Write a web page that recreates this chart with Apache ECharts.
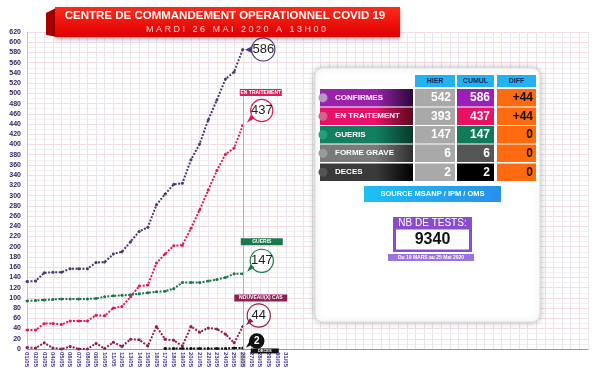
<!DOCTYPE html>
<html>
<head>
<meta charset="utf-8">
<script src="https://cdn.jsdelivr.net/npm/echarts@6/dist/echarts.min.js"></script>
<style>
  html, body { margin: 0; padding: 0; background: #fff; }
  #chart { width: 600px; height: 376px; }
</style>
</head>
<body>
<div id="chart"></div>
<script>
// Data
const days = ['01/05', '02/05', '03/05', '04/05', '05/05', '06/05', '07/05', '08/05', '09/05', '10/05',
  '11/05', '12/05', '13/05', '14/05', '15/05', '16/05', '17/05', '18/05', '19/05', '20/05',
  '21/05', '22/05', '23/05', '24/05', '25/05', '26/05', '27/05', '28/05', '29/05', '30/05', '31/05']
const confirmes = [132, 133, 149, 150, 150, 157, 157, 157, 169, 170, 186, 190, 210, 230, 238, 282, 303, 322, 324, 370, 401, 448, 487, 528, 542, 586]
const enTraitement = [37, 37, 50, 50, 48, 55, 55, 55, 66, 65, 80, 83, 102, 123, 125, 168, 186, 202, 203, 236, 272, 311, 349, 381, 393, 437]
const gueris = [94, 95, 96, 97, 98, 98, 98, 98, 99, 102, 104, 105, 106, 108, 110, 112, 113, 118, 130, 130, 130, 133, 136, 140, 147, 147]
const nouveauxCas = [3, 2, 12, 2, 0, 5, 0, 0, 11, 1, 13, 5, 19, 18, 6, 44, 19, 17, 6, 44, 33, 41, 39, 29, 12, 44]
const deces = [null, null, null, null, null, null, null, null, null, null, null, null, null, null, null, null, 1, 1, 1, 1, 1, 1, 1, 1, 2, 2]

// table on the right
const rowNames = ['CONFIRMES', 'EN TRAITEMENT', 'GUERIS', 'FORME GRAVE', 'DECES']
const hier = [542, 393, 147, 6, 2]
const cumul = [586, 437, 147, 6, 2]
const diff = ['+44', '+44', '0', '0', '0']
const nbTests = '9340'

// blank categories so the grid keeps going to the right edge
const categories = days.concat(new Array(35).fill(''))

const FONT = '"Liberation Sans", Arial, sans-serif'

// builds a line series with a bubble on its last point
function lineSeries(name, values, color, opts) {
  const last = values.length - 1
  const data = values.map((v, i) => {
    if (i !== last) return v
    return {
      value: v,
      label: {
        show: true,
        position: 'inside',
        offset: opts.circleOffset,
        formatter: (opts.pointer ? '{p|◀}' : '') + '{c|' + v + '}',
        rich: {
          p: { color: color, fontSize: 9 },
          c: {
            width: opts.d, height: opts.d, lineHeight: opts.d, borderRadius: opts.d / 2,
            backgroundColor: opts.fill || '#fff', borderColor: color, borderWidth: 1.2,
            color: opts.textColor || '#222', fontSize: opts.fontSize || 13, align: 'center',
            fontFamily: FONT, fontWeight: opts.fontWeight || 'normal'
          }
        }
      }
    }
  })
  const markData = []
  if (opts.box) {
    markData.push({
      coord: [days[last], values[last]],
      symbol: 'rect', symbolSize: 0,
      label: {
        show: true, position: 'inside', offset: opts.boxOffset,
        formatter: opts.box,
        width: opts.boxW, height: opts.boxH, lineHeight: opts.boxH,
        backgroundColor: opts.boxColor || color, color: '#fff',
        fontSize: opts.boxFont || 5, fontWeight: 'bold', fontFamily: FONT, align: 'center', padding: 0
      }
    })
  }
  if (opts.tail) {
    markData.push({
      coord: [days[last], values[last]],
      symbol: 'triangle', symbolSize: [5, 8], symbolRotate: 135,
      symbolOffset: opts.tail,
      itemStyle: { color: color },
      label: { show: false }
    })
  }
  return {
    name: name,
    type: 'line',
    data: data,
    symbol: 'circle',
    symbolSize: 3,
    showSymbol: true,
    itemStyle: { color: color },
    lineStyle: { color: color, width: 2, type: [2, 1.5] },
    label: { show: false },
    z: opts.z || 3,
    markPoint: markData.length ? { silent: true, animation: false, data: markData } : undefined,
    markLine: opts.markLine
  }
}

const chart = echarts.init(document.getElementById('chart'))

// right panel built from the table arrays
const colX = [415, 457, 497]
const colW = [40, 37, 39]
const rowY = [89, 107.5, 126, 144.5, 163.5]
const rowH = 17.5
const barColors = [['#9a22aa', '#2a0838'], ['#e8106a', '#5a0818'], ['#128060', '#08382a'], ['#7a7a7a', '#2e2e2e'], ['#3a3a3a', '#000']]
const bulbColors = ['#b496c8', '#d8608e', '#1fa07a', '#9a9a9a', '#555']
const cumulColors = ['#9a1fb4', '#ea1064', '#117a58', '#555', '#000']

const graphics = []
// banner
graphics.push({ type: 'polygon', shape: { points: [[46, 13], [58, 7], [58, 37], [46, 35]] }, style: { fill: '#a80000' } })
graphics.push({
  type: 'rect', shape: { x: 55, y: 7, width: 345, height: 30 },
  style: {
    fill: new echarts.graphic.LinearGradient(0, 0, 0, 1, [{ offset: 0, color: '#ff2a1a' }, { offset: 1, color: '#dd0000' }]),
    shadowBlur: 4, shadowColor: 'rgba(0,0,0,0.35)', shadowOffsetY: 2
  }
})
graphics.push({ type: 'text', x: 225, y: 16, style: { text: 'CENTRE DE COMMANDEMENT OPERATIONNEL COVID 19', fill: '#fff', font: 'bold 11.5px ' + FONT, textAlign: 'center', textVerticalAlign: 'middle' } })
graphics.push({ type: 'text', x: 236, y: 30, style: { text: 'M A R D I   2 6   M A I   2 0 2 0   A   1 3 H 0 0', fill: '#ffd0d0', font: '9px ' + FONT, textAlign: 'center', textVerticalAlign: 'middle' } })

// panel
graphics.push({
  type: 'rect', shape: { x: 315, y: 68, width: 225, height: 254, r: 8 },
  style: { fill: '#fff', stroke: '#ddd', lineWidth: 1, shadowBlur: 6, shadowColor: 'rgba(0,0,0,0.25)' }
})
;['HIER', 'CUMUL', 'DIFF'].forEach((h, j) => {
  graphics.push({ type: 'rect', shape: { x: colX[j], y: 75, width: colW[j], height: 12 }, style: { fill: '#22b2f0' } })
  graphics.push({ type: 'text', x: colX[j] + colW[j] / 2, y: 81, style: { text: h, fill: '#1a2452', font: 'bold 7px ' + FONT, textAlign: 'center', textVerticalAlign: 'middle' } })
})
rowNames.forEach((name, i) => {
  const y = rowY[i]
  const cy = y + rowH / 2
  graphics.push({
    type: 'rect', shape: { x: 320, y: y, width: 93, height: rowH },
    style: { fill: new echarts.graphic.LinearGradient(0, 0, 1, 0, [{ offset: 0, color: barColors[i][0] }, { offset: 0.6, color: barColors[i][0] }, { offset: 1, color: barColors[i][1] }]) }
  })
  graphics.push({ type: 'circle', shape: { cx: 323, cy: cy, r: 4.5 }, style: { fill: bulbColors[i] } })
  graphics.push({ type: 'text', x: 335, y: cy, style: { text: name, fill: '#fff', font: 'bold 8px ' + FONT, textAlign: 'left', textVerticalAlign: 'middle' } })
  graphics.push({ type: 'rect', shape: { x: colX[0], y: y, width: colW[0], height: rowH }, style: { fill: '#a9a9a9' } })
  graphics.push({ type: 'text', x: colX[0] + colW[0] - 4, y: cy, style: { text: String(hier[i]), fill: '#fff', font: 'bold 12px ' + FONT, textAlign: 'right', textVerticalAlign: 'middle' } })
  graphics.push({ type: 'rect', shape: { x: colX[1], y: y, width: colW[1], height: rowH }, style: { fill: cumulColors[i] } })
  graphics.push({ type: 'text', x: colX[1] + colW[1] - 4, y: cy, style: { text: String(cumul[i]), fill: '#fff', font: 'bold 12px ' + FONT, textAlign: 'right', textVerticalAlign: 'middle' } })
  graphics.push({ type: 'rect', shape: { x: colX[2], y: y, width: colW[2], height: rowH }, style: { fill: '#ff6a10' } })
  graphics.push({ type: 'text', x: colX[2] + colW[2] - 3, y: cy, style: { text: diff[i], fill: '#111', font: 'bold 12px ' + FONT, textAlign: 'right', textVerticalAlign: 'middle' } })
})
// source
graphics.push({
  type: 'rect', shape: { x: 364, y: 186, width: 137, height: 16 },
  style: { fill: new echarts.graphic.LinearGradient(0, 0, 1, 0, [{ offset: 0, color: '#1cc0f4' }, { offset: 1, color: '#2a90e8' }]) }
})
graphics.push({ type: 'text', x: 432.5, y: 194, style: { text: 'SOURCE MSANP / IPM / OMS', fill: '#fff', font: 'bold 7.5px ' + FONT, textAlign: 'center', textVerticalAlign: 'middle' } })
// tests
graphics.push({ type: 'rect', shape: { x: 393, y: 217, width: 79, height: 35 }, style: { fill: '#8a4ccc' } })
graphics.push({ type: 'text', x: 432.5, y: 223.5, style: { text: 'NB DE TESTS:', fill: '#fff', font: '10px ' + FONT, textAlign: 'center', textVerticalAlign: 'middle' } })
graphics.push({ type: 'rect', shape: { x: 396, y: 229.5, width: 73, height: 20 }, style: { fill: '#fff' } })
graphics.push({ type: 'text', x: 432.5, y: 240, style: { text: nbTests, fill: '#111', font: 'bold 16px ' + FONT, textAlign: 'center', textVerticalAlign: 'middle' } })
graphics.push({ type: 'rect', shape: { x: 388, y: 254, width: 86, height: 7 }, style: { fill: '#9c74dc' } })
graphics.push({ type: 'text', x: 431, y: 257.7, style: { text: 'Du 19 MARS au 25 Mai 2020', fill: '#fff', font: 'bold 5px ' + FONT, textAlign: 'center', textVerticalAlign: 'middle' } })

// keep the overlay above the grid lines
graphics.forEach((g, k) => { g.z = 100; g.zlevel = 0; g.z2 = k })

const options = {
  animation: false,
  backgroundColor: '#fff',
  textStyle: { fontFamily: FONT },
  grid: { left: 27, right: 12, top: 32, bottom: 27, containLabel: false },
  xAxis: {
    type: 'category',
    data: categories,
    boundaryGap: false,
    axisLine: { show: true, lineStyle: { color: '#9a9a9a', width: 1 } },
    axisTick: { show: false },
    axisLabel: {
      interval: 0, rotate: -90, fontSize: 6, fontWeight: 'bold', color: '#4a2f86', margin: 3,
      formatter: v => v === days[25] ? '{h|' + v + '}' : v,
      rich: { h: { backgroundColor: '#cfcfcf', fontSize: 6, fontWeight: 'bold', color: '#4a2f86' } }
    },
    splitLine: { show: true, interval: 0, lineStyle: { color: '#e6e4ec', width: 1 } }
  },
  yAxis: {
    type: 'value',
    min: 0, max: 620, interval: 20,
    axisLine: { show: true, lineStyle: { color: '#c8c8c8' } },
    axisTick: { show: false },
    axisLabel: { fontSize: 7, fontWeight: 'bold', color: '#35235f', margin: 6 },
    splitLine: { show: true, lineStyle: { color: '#f3dbe3', width: 1 } },
    minorTick: { show: false, splitNumber: 2 },
    minorSplitLine: { show: true, lineStyle: { color: '#f5eff2', width: 1 } }
  },
  series: [
    lineSeries('Gueris', gueris, '#19784c', {
      d: 22, circleOffset: [19, -13], box: 'GUERIS', boxW: 42, boxH: 7, boxOffset: [19, -32], tail: [7, -5]
    }),
    lineSeries('Nouveaux cas', nouveauxCas, '#8e1f55', {
      d: 22, circleOffset: [16, -11], box: 'NOUVEAU(X) CAS', boxW: 53, boxH: 7, boxOffset: [18, -28.5], tail: [6, -4]
    }),
    lineSeries('Deces', deces, '#111', {
      d: 13, circleOffset: [14, -7], fill: '#111', textColor: '#fff', fontSize: 10, fontWeight: 'bold',
      box: 'DECES', boxW: 28, boxH: 5, boxFont: 4, boxOffset: [22, 3], tail: [6, -3]
    }),
    lineSeries('En traitement', enTraitement, '#e0185c', {
      d: 21, circleOffset: [19, -15], box: 'EN TRAITEMENT', boxW: 42, boxH: 7, boxOffset: [18, -33], tail: [7, -6],
      markLine: {
        silent: true, symbol: 'none', animation: false,
        lineStyle: { color: '#b4b4b4', width: 1, type: 'solid' },
        label: { show: false },
        data: [[{ coord: [days[25], 495] }, { coord: [days[25], 0] }]]
      }
    }),
    lineSeries('Confirmes', confirmes, '#4a3b6e', {
      d: 22, circleOffset: [17, 0], pointer: true
    })
  ],
  graphic: graphics
}

chart.setOption(options)
</script>
</body>
</html>
